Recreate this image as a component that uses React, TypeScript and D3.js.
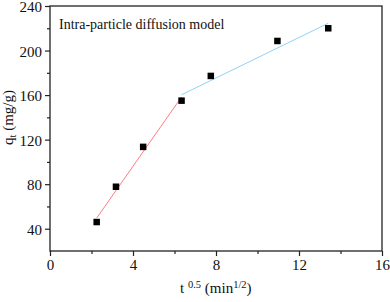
import React, { useEffect, useRef } from 'react';
import * as d3 from 'd3';

// data
const tHalf = [2.25, 3.18, 4.49, 6.34, 7.75, 10.96, 13.41];
const qt = [46, 77.7, 113.5, 155, 177.2, 208.6, 220];

// fitted segments (end points)
const fit1X = [2.25, 6.34];
const fit1Y = [49.6, 158.3];
const fit2X = [6.34, 13.41];
const fit2Y = [160.3, 224.5];

const xTicks = [0, 4, 8, 12, 16];
const xMinor = [2, 6, 10, 14];
const yTicks = [40, 80, 120, 160, 200, 240];
const yMinor = [60, 100, 140, 180, 220];

export default function App() {
  const ref = useRef<SVGSVGElement>(null);
  const width = 390;
  const height = 302;
  const margin = { top: 6, right: 8, bottom: 51, left: 50 };
  const font = '"Liberation Serif", "Times New Roman", serif';

  useEffect(() => {
    const svg = d3.select(ref.current);
    svg.selectAll('*').remove();

    const x = d3.scaleLinear().domain([0, 16]).range([margin.left, width - margin.right]);
    const y = d3.scaleLinear().domain([20, 240]).range([height - margin.bottom, margin.top]);

    // ---- fit lines ----
    const drawFit = (xs: number[], ys: number[], color: string) => {
      svg.append('path')
        .datum(xs.map((v, i) => [v, ys[i]] as [number, number]))
        .attr('fill', 'none')
        .attr('stroke', color)
        .attr('stroke-width', 1)
        .attr('d', d3.line<[number, number]>().x((d) => x(d[0])).y((d) => y(d[1])));
    };
    drawFit(fit1X, fit1Y, '#ff7b86');
    drawFit(fit2X, fit2Y, '#8fd3f5');

    // ---- points ----
    const s = 6.5;
    svg.append('g')
      .selectAll('rect')
      .data(tHalf)
      .join('rect')
      .attr('x', (d) => x(d) - s / 2)
      .attr('y', (d, i) => y(qt[i]) - s / 2)
      .attr('width', s)
      .attr('height', s)
      .attr('fill', '#000');

    // ---- axes ----
    const xAxis = d3.axisBottom(x).tickValues(xTicks).tickSize(5).tickPadding(3).tickFormat(d3.format('d'));
    const xAxisMinor = d3.axisBottom(x).tickValues(xMinor).tickSize(3).tickFormat(() => '');
    const yAxis = d3.axisLeft(y).tickValues(yTicks).tickSize(5).tickPadding(3).tickFormat(d3.format('d'));
    const yAxisMinor = d3.axisLeft(y).tickValues(yMinor).tickSize(3).tickFormat(() => '');

    svg.append('g').attr('transform', `translate(0,${height - margin.bottom})`).call(xAxis);
    svg.append('g').attr('transform', `translate(0,${height - margin.bottom})`).call(xAxisMinor);
    const gy = svg.append('g').attr('transform', `translate(${margin.left},0)`).call(yAxis);
    svg.append('g').attr('transform', `translate(${margin.left},0)`).call(yAxisMinor);

    svg.selectAll('.domain').remove();
    svg.selectAll('.tick line').attr('stroke', '#222').attr('stroke-width', 1.2);
    svg.selectAll('.tick text')
      .attr('fill', '#111')
      .style('font-family', font)
      .style('font-size', '15px');
    // keep the top label inside the picture
    gy.selectAll('.tick text').attr('dy', '0.38em');

    // frame
    svg.append('rect')
      .attr('x', margin.left)
      .attr('y', margin.top)
      .attr('width', width - margin.left - margin.right)
      .attr('height', height - margin.top - margin.bottom)
      .attr('fill', 'none')
      .attr('stroke', '#222')
      .attr('stroke-width', 1.3);

    // ---- title ----
    svg.append('text')
      .attr('x', 59)
      .attr('y', 29)
      .attr('fill', '#111')
      .style('font-family', font)
      .style('font-size', '14px')
      .text('Intra-particle diffusion model');

    // ---- axis labels ----
    const xl = svg.append('text')
      .attr('x', 180)
      .attr('y', 293)
      .attr('fill', '#111')
      .style('font-family', font)
      .style('font-size', '15px');
    xl.append('tspan').text('t ');
    xl.append('tspan').attr('dy', -5).style('font-size', '10.5px').text('0.5');
    xl.append('tspan').attr('dy', 5).text(' (min');
    xl.append('tspan').attr('dy', -5).style('font-size', '10.5px').text('1/2');
    xl.append('tspan').attr('dy', 5).text(')');

    const yl = svg.append('text')
      .attr('transform', `translate(13,${(margin.top + height - margin.bottom) / 2 - 11}) rotate(-90)`)
      .attr('text-anchor', 'middle')
      .attr('fill', '#111')
      .style('font-family', font)
      .style('font-size', '15px');
    yl.append('tspan').text('q');
    yl.append('tspan').attr('dy', 3).style('font-size', '10.5px').text('t');
    yl.append('tspan').attr('dy', -3).text(' (mg/g)');
  }, []);

  return (
    <svg
      ref={ref}
      width={width}
      height={height}
      style={{ position: 'absolute', left: 0, top: 0, background: '#fff' }}
    />
  );
}
